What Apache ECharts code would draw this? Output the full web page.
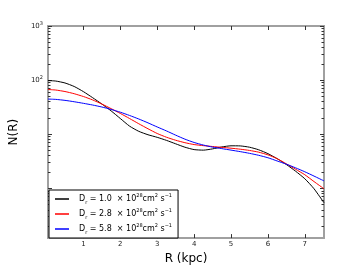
<!DOCTYPE html>
<html>
<head>
<meta charset="utf-8">
<script src="https://cdn.jsdelivr.net/npm/echarts@6/dist/echarts.min.js"></script>
<style>
html,body{margin:0;padding:0;background:#fff;}
#chart{width:360px;height:270px;}
</style>
</head>
<body>
<div id="chart"></div>
<script>
// ---- data ----
const R = [0.04, 0.25, 0.5, 0.75, 1.0, 1.25, 1.5, 1.75, 2.0, 2.25, 2.5, 2.75, 3.0, 3.25, 3.5, 3.75,
  4.0, 4.25, 4.5, 4.75, 5.0, 5.25, 5.5, 5.75, 6.0, 6.25, 6.5, 6.75, 7.0, 7.25, 7.52];
const N_D10 = [98.0, 96.0, 88.5, 76.2, 61.2, 47.3, 36.1, 27.0, 19.5, 14.1, 11.3, 9.77, 8.75, 7.69, 6.64, 5.75,
  5.19, 5.07, 5.35, 5.81, 6.10, 6.07, 5.75, 5.15, 4.37, 3.53, 2.75, 2.07, 1.50, 0.98, 0.54];
const N_D28 = [67.0, 65.5, 61.5, 56.0, 49.7, 43.0, 36.1, 29.7, 24.2, 19.5, 15.6, 12.6, 10.3, 8.79, 7.73, 6.97,
  6.43, 6.14, 5.92, 5.71, 5.51, 5.28, 5.01, 4.65, 4.15, 3.53, 2.83, 2.25, 1.78, 1.33, 0.98];
const N_D58 = [44.6, 44.0, 42.2, 39.8, 37.2, 34.6, 31.8, 28.7, 25.5, 22.2, 19.1, 16.2, 13.6, 11.5, 9.6, 8.1,
  7.03, 6.3, 5.77, 5.41, 5.08, 4.76, 4.43, 4.07, 3.67, 3.2, 2.79, 2.39, 2.02, 1.68, 1.37];
const diffCoeffs = ['1.0', '2.8', '5.8'];
const seriesColors = ['#000000', '#ff0000', '#0000ff'];
const xTicks = [1, 2, 3, 4, 5, 6, 7];
const yMajorTicks = [1, 10, 100, 1000];
const yLabelTicks = [100, 1000];
const yMinorTicks = [0.2, 0.3, 0.4, 0.5, 0.6, 0.7, 0.8, 0.9,
  2, 3, 4, 5, 6, 7, 8, 9,
  20, 30, 40, 50, 60, 70, 80, 90,
  200, 300, 400, 500, 600, 700, 800, 900];
const xMin = 0.04, xMax = 7.52, yMin = 0.12, yMax = 1000;

const seriesValues = [N_D10, N_D28, N_D58];
const FONT = 'DejaVu Sans';
const axisCol = '#a0a0a0';
const tickCol = '#333';

function yAxisDef(pos, ticks, len, labels) {
  return {
    type: 'log', logBase: 10, min: yMin, max: yMax, position: pos,
    axisLine: {show: true, lineStyle: {color: axisCol, width: 2}},
    axisTick: {show: true, inside: true, length: len, customValues: ticks, lineStyle: {color: tickCol, width: 1}},
    axisLabel: labels ? {
      show: true, customValues: yLabelTicks, margin: 5, fontFamily: FONT, fontSize: 7, color: '#222',
      formatter: function (v) { return '10{s|' + Math.round(Math.log10(v)) + '}'; },
      rich: {s: {fontSize: 5, verticalAlign: 'top', fontFamily: FONT, color: '#222', padding: [0, 0, 4, 0]}}
    } : {show: false},
    splitLine: {show: false}
  };
}

const option = {
  animation: false,
  backgroundColor: '#fff',
  grid: {left: 45, right: 36, top: 26, bottom: 27},
  xAxis: [
    {
      type: 'value', min: xMin, max: xMax, position: 'bottom',
      name: 'R (kpc)', nameLocation: 'middle', nameGap: 9,
      nameTextStyle: {fontFamily: FONT, fontSize: 12, color: '#000'},
      axisLine: {show: true, onZero: false, lineStyle: {color: axisCol, width: 2}},
      axisTick: {show: true, inside: true, length: 4, customValues: xTicks, lineStyle: {color: tickCol}},
      axisLabel: {show: true, customValues: xTicks, margin: 3, fontFamily: FONT, fontSize: 7, color: '#222'},
      splitLine: {show: false}
    },
    {
      type: 'value', min: xMin, max: xMax, position: 'top',
      axisLine: {show: true, onZero: false, lineStyle: {color: axisCol, width: 2}},
      axisTick: {show: true, inside: true, length: 4, customValues: xTicks, lineStyle: {color: tickCol}},
      axisLabel: {show: false},
      splitLine: {show: false}
    }
  ],
  yAxis: [
    Object.assign(yAxisDef('left', yMajorTicks, 4, true), {
      name: 'N(R)', nameLocation: 'middle', nameGap: 22,
      nameTextStyle: {fontFamily: FONT, fontSize: 12, color: '#000'}
    }),
    yAxisDef('left', yMinorTicks, 2.5, false),
    yAxisDef('right', yMajorTicks, 4, false),
    yAxisDef('right', yMinorTicks, 2.5, false)
  ],
  legend: {
    orient: 'vertical', left: 49, top: 190,
    padding: [3, 6, 3, 6], itemGap: 3,
    itemWidth: 14, itemHeight: 1.5, icon: 'rect',
    borderColor: '#000', borderWidth: 1, backgroundColor: '#fff',
    formatter: function (name) {
      return '{d|D}{sub|r}{n| = ' + name + '  × 10}{sup|28}{n|cm}{sup|2}{n| s}{sup|−1}';
    },
    textStyle: {
      fontFamily: FONT, fontSize: 8, color: '#000', lineHeight: 12,
      rich: {
        d: {fontFamily: FONT, fontSize: 8, color: '#000', padding: [0, 0, 0, 5]},
        n: {fontFamily: FONT, fontSize: 8, color: '#000'},
        sup: {fontFamily: FONT, fontSize: 5, color: '#000', verticalAlign: 'top'},
        sub: {fontFamily: FONT, fontSize: 5, color: '#000', verticalAlign: 'bottom'}
      }
    },
    data: diffCoeffs
  },
  series: diffCoeffs.map(function (d, i) {
    return {
      name: d, type: 'line', xAxisIndex: 0, yAxisIndex: 0,
      smooth: 0.2, symbol: 'none',
      lineStyle: {color: seriesColors[i], width: 1},
      itemStyle: {color: seriesColors[i]},
      data: R.map(function (r, j) { return [r, seriesValues[i][j]]; })
    };
  })
};

const chart = echarts.init(document.getElementById('chart'), null, {renderer: 'canvas'});
chart.setOption(option);
</script>
</body>
</html>
